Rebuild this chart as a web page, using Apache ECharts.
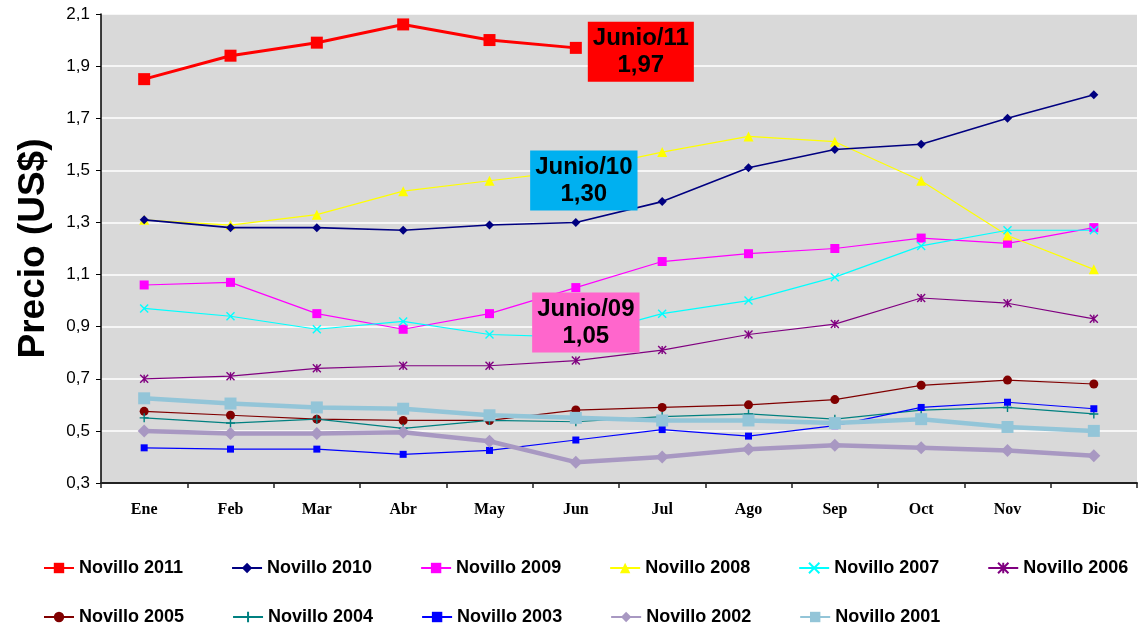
<!DOCTYPE html>
<html>
<head>
<meta charset="utf-8">
<script src="https://cdn.jsdelivr.net/npm/echarts@6/dist/echarts.min.js"></script>
<style>
  html, body { margin: 0; padding: 0; background: #fff; }
  #chart { width: 1138px; height: 626px; }
</style>
</head>
<body>
<div id="chart"></div>
<script>
// meses y precios del novillo por año (US$)
const meses = ['Ene', 'Feb', 'Mar', 'Abr', 'May', 'Jun', 'Jul', 'Ago', 'Sep', 'Oct', 'Nov', 'Dic'];
const n2011 = [1.85, 1.94, 1.99, 2.06, 2.00, 1.97];
const n2010 = [1.31, 1.28, 1.28, 1.27, 1.29, 1.30, 1.38, 1.51, 1.58, 1.60, 1.70, 1.79];
const n2009 = [1.06, 1.07, 0.95, 0.89, 0.95, 1.05, 1.15, 1.18, 1.20, 1.24, 1.22, 1.28];
const n2008 = [1.31, 1.29, 1.33, 1.42, 1.46, 1.50, 1.57, 1.63, 1.61, 1.46, 1.25, 1.12];
const n2007 = [0.97, 0.94, 0.89, 0.92, 0.87, 0.86, 0.95, 1.00, 1.09, 1.21, 1.27, 1.27];
const n2006 = [0.70, 0.71, 0.74, 0.75, 0.75, 0.77, 0.81, 0.87, 0.91, 1.01, 0.99, 0.93];
const n2005 = [0.575, 0.56, 0.545, 0.54, 0.54, 0.58, 0.59, 0.60, 0.62, 0.675, 0.695, 0.68];
const n2004 = [0.55, 0.53, 0.545, 0.51, 0.54, 0.535, 0.555, 0.565, 0.545, 0.58, 0.59, 0.565];
const n2003 = [0.435, 0.43, 0.43, 0.41, 0.425, 0.465, 0.505, 0.48, 0.52, 0.59, 0.61, 0.585];
const n2002 = [0.50, 0.49, 0.49, 0.495, 0.46, 0.38, 0.40, 0.43, 0.445, 0.435, 0.425, 0.405];
const n2001 = [0.625, 0.605, 0.59, 0.585, 0.56, 0.55, 0.54, 0.54, 0.53, 0.545, 0.515, 0.50];
const yTicks = { min: 0.3, max: 2.1, step: 0.2 };

const fmt = v => v.toFixed(1).replace('.', ',');
const fmt2 = v => v.toFixed(2).replace('.', ',');

// simbolos tipo Excel
const symX = 'path://M0,0L10,10M10,0L0,10';
const symAst = 'path://M0,0L10,10M10,0L0,10M5,0L5,10';
const symPlus = 'path://M5,0L5,10M0,5L10,5';
const symDash = 'path://M0,4L10,4L10,6L0,6Z';

// etiqueta de junio (indice 5)
function conJunio(arr, anio, bg, offset) {
  return arr.map((v, i) => i !== 5 ? v : {
    value: v,
    label: {
      show: true,
      position: 'inside',
      offset: offset,
      formatter: 'Junio/' + anio + '\n' + fmt2(v),
      backgroundColor: bg,
      color: '#000',
      fontFamily: 'Arial',
      fontWeight: 'bold',
      fontSize: 24,
      lineHeight: 27,
      padding: [3, 5, 3, 5],
      align: 'center'
    }
  });
}

function serie(name, data, color, symbol, size, width, extra) {
  return Object.assign({
    name: name,
    type: 'line',
    data: data,
    symbol: symbol,
    symbolSize: size,
    showAllSymbol: true,
    lineStyle: { color: color, width: width },
    itemStyle: { color: color },
    animation: false
  }, extra || {});
}
const trazo = c => ({ itemStyle: { color: c, borderColor: c, borderWidth: 1.4 } });

const leyenda = (items, top) => ({
  data: items,
  left: 43, top: top, width: 1095, padding: 0,
  itemWidth: 30, itemHeight: 13, itemGap: 48,
  textStyle: { fontFamily: 'Arial', fontWeight: 'bold', fontSize: 18, color: '#000' }
});

const chart = echarts.init(document.getElementById('chart'));
chart.setOption({
  backgroundColor: '#fff',
  animation: false,
  grid: {
    left: 101, right: 1, top: 14, bottom: 143,
    show: true, backgroundColor: '#D9D9D9', borderWidth: 0
  },
  xAxis: {
    type: 'category',
    data: meses,
    boundaryGap: true,
    axisLine: { lineStyle: { color: '#222', width: 2 } },
    axisTick: { show: true, length: 5, lineStyle: { color: '#222', width: 1.5 } },
    axisLabel: {
      margin: 19, color: '#000', fontFamily: 'Liberation Serif, Times New Roman, serif',
      fontWeight: 'bold', fontSize: 16
    },
    splitLine: { show: false }
  },
  yAxis: {
    type: 'value',
    min: yTicks.min, max: yTicks.max, interval: yTicks.step,
    name: 'Precio (US$)',
    nameLocation: 'middle',
    nameGap: 49,
    nameTextStyle: { fontFamily: 'Arial', fontWeight: 'bold', fontSize: 37, color: '#000' },
    axisLine: { show: true, lineStyle: { color: '#000', width: 1.5 } },
    axisTick: { show: true, length: 5, lineStyle: { color: '#000' } },
    axisLabel: { formatter: fmt, margin: 11, color: '#000', fontFamily: 'Arial', fontSize: 17 },
    splitLine: { show: true, lineStyle: { color: '#fff', width: 1.5 } }
  },
  legend: [
    leyenda(['Novillo 2011', 'Novillo 2010', 'Novillo 2009', 'Novillo 2008', 'Novillo 2007', 'Novillo 2006'], 559),
    leyenda(['Novillo 2005', 'Novillo 2004', 'Novillo 2003', 'Novillo 2002', 'Novillo 2001'], 608)
  ],
  series: [
    serie('Novillo 2011', conJunio(n2011, '11', '#FF0000', [65, 4]), '#FF0000', 'rect', 12, 3, { z: 5 }),
    serie('Novillo 2010', conJunio(n2010, '10', '#00B0F0', [8, -42]), '#000080', 'diamond', 9, 1.6, { z: 4 }),
    serie('Novillo 2009', conJunio(n2009, '09', '#FF66CC', [10, 35]), '#FF00FF', 'rect', 9, 1.2, { z: 3 }),
    serie('Novillo 2008', n2008, '#FFFF00', 'triangle', 10, 1.2),
    serie('Novillo 2007', n2007, '#00FFFF', symX, 8, 1.2, trazo('#00FFFF')),
    serie('Novillo 2006', n2006, '#800080', symAst, 8, 1.2, trazo('#800080')),
    serie('Novillo 2005', n2005, '#800000', 'circle', 9, 1.2),
    serie('Novillo 2004', n2004, '#008080', symPlus, 9, 1.2, trazo('#008080')),
    serie('Novillo 2003', n2003, '#0000FF', symDash, 7, 1.2),
    serie('Novillo 2002', n2002, '#A898C2', 'diamond', 13, 4.5),
    serie('Novillo 2001', n2001, '#93C5D8', 'rect', 12, 4.5)
  ]
});
</script>
</body>
</html>
